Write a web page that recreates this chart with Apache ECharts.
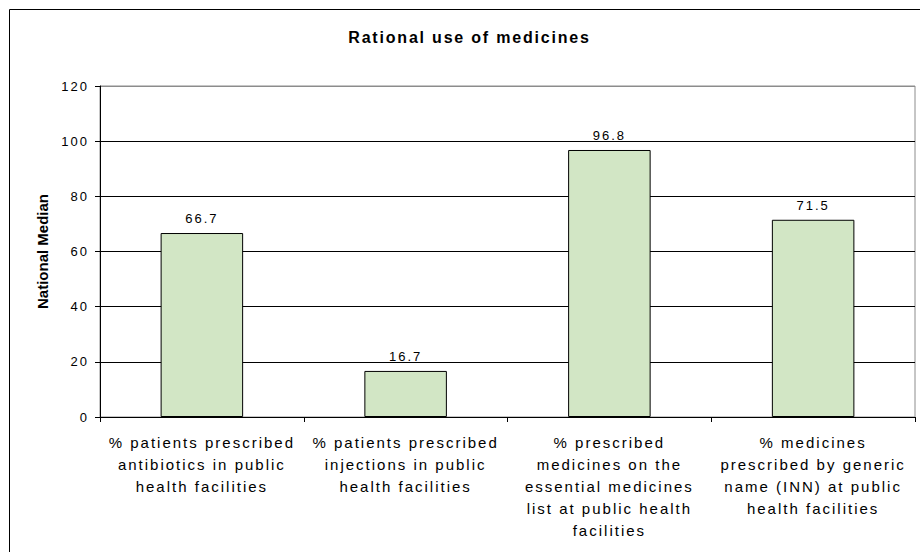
<!DOCTYPE html>
<html>
<head>
<meta charset="utf-8">
<script src="https://cdn.jsdelivr.net/npm/echarts@6/dist/echarts.min.js"></script>
<style>
  html, body { margin: 0; padding: 0; background: #fff; }
  #chart { width: 920px; height: 552px; }
  /* spaced-out lettering for the SVG text */
  #chart text { letter-spacing: 2px; }
  #chart text[style*="bold"] { letter-spacing: 1.8px; }
  #chart text[style*="700"] { letter-spacing: 0; }
</style>
</head>
<body>
<div id="chart"></div>
<script>
// Indicator names (line breaks as printed under each bar)
const categories = [
  '% patients prescribed\nantibiotics in public\nhealth facilities',
  '% patients prescribed\ninjections in public\nhealth facilities',
  '% prescribed\nmedicines on the\nessential medicines\nlist at public health\nfacilities',
  '% medicines\nprescribed by generic\nname (INN) at public\nhealth facilities'
];

// National median for each indicator
const medianValues = [66.7, 16.7, 96.8, 71.5];

// Value axis range and step
const yMin = 0;
const yMax = 120;
const yStep = 20;

const titleText = 'Rational use of medicines';
const yAxisTitle = 'National Median';

const FONT = 'Liberation Sans';

const chart = echarts.init(document.getElementById('chart'), null, { renderer: 'svg' });

chart.setOption({
  animation: false,
  backgroundColor: '#ffffff',
  title: {
    text: titleText,
    left: 469.5,
    top: 29,
    padding: 0,
    textAlign: 'center',
    textStyle: { fontFamily: FONT, fontSize: 16, fontWeight: 'bold', color: '#000' }
  },
  graphic: [{
    type: 'rect',
    silent: true,
    shape: { x: 9.5, y: 9.5, width: 1200, height: 1200 },
    style: { fill: 'none', stroke: '#000', lineWidth: 1 },
    z: 0
  }],
  grid: {
    left: 100,
    right: 5,
    top: 86,
    bottom: 135,
    show: true,
    borderColor: '#8c8c8c',
    borderWidth: 1,
    backgroundColor: 'transparent'
  },
  xAxis: {
    type: 'category',
    data: categories,
    boundaryGap: true,
    axisLine: { show: true, lineStyle: { color: '#000', width: 1 } },
    axisTick: { show: true, alignWithLabel: false, length: 5, lineStyle: { color: '#000' } },
    axisLabel: {
      interval: 0,
      margin: 14,
      color: '#000',
      fontFamily: FONT,
      fontSize: 15,
      lineHeight: 22,
      align: 'center'
    },
    splitLine: { show: false }
  },
  yAxis: {
    type: 'value',
    min: yMin,
    max: yMax,
    interval: yStep,
    name: yAxisTitle,
    nameLocation: 'middle',
    nameGap: 50,
    nameRotate: 90,
    nameTextStyle: { fontFamily: FONT, fontSize: 15, fontWeight: 700, color: '#000' },
    axisLine: { show: true, lineStyle: { color: '#000', width: 1 } },
    axisTick: { show: true, length: 5, lineStyle: { color: '#000' } },
    axisLabel: { margin: 11, color: '#000', fontFamily: FONT, fontSize: 13 },
    splitLine: {
      show: true,
      lineStyle: { color: ['#000', '#000', '#000', '#000', '#000', '#000', '#8c8c8c'], width: 1 }
    }
  },
  series: [{
    type: 'bar',
    data: medianValues,
    barWidth: '40.5%',
    itemStyle: { color: '#d2e6c5', borderColor: '#000', borderWidth: 1 },
    label: {
      show: true,
      position: 'top',
      distance: 8,
      color: '#000',
      fontFamily: FONT,
      fontSize: 13,
      formatter: p => p.value.toFixed(1)
    }
  }]
});
</script>
</body>
</html>
